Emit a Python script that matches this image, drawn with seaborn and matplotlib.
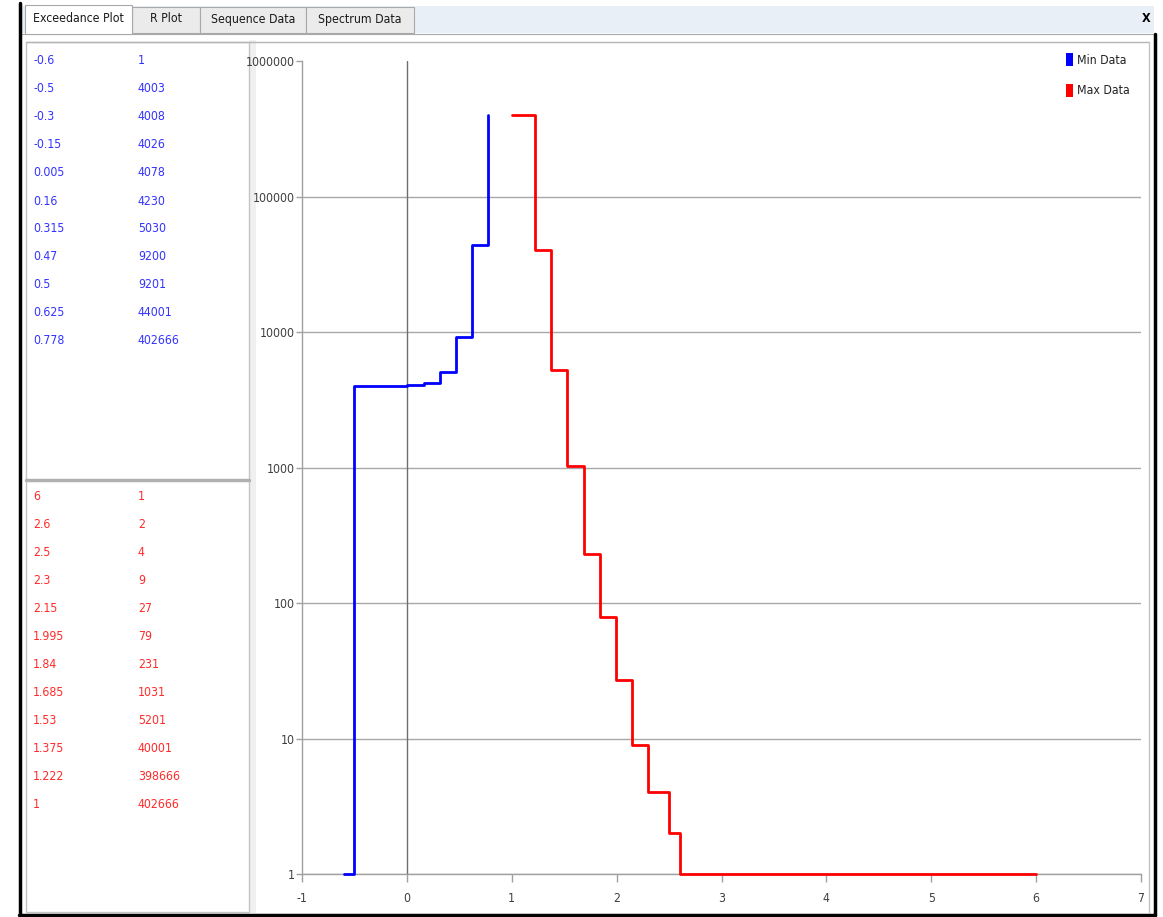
import matplotlib
matplotlib.use("Agg")
import matplotlib.pyplot as plt
from matplotlib.patches import Rectangle
from matplotlib.lines import Line2D
import seaborn as sns
import pandas as pd

# ---------------- data ----------------
min_x = [-0.6, -0.5, -0.3, -0.15, 0.005, 0.16, 0.315, 0.47, 0.5, 0.625, 0.778]
min_n = [1, 4003, 4008, 4026, 4078, 4230, 5030, 9200, 9201, 44001, 402666]
max_x = [6, 2.6, 2.5, 2.3, 2.15, 1.995, 1.84, 1.685, 1.53, 1.375, 1.222, 1]
max_n = [1, 2, 4, 9, 27, 79, 231, 1031, 5201, 40001, 398666, 402666]
tab_labels = ["Exceedance Plot", "R Plot", "Sequence Data", "Spectrum Data"]
series_names = ["Min Data", "Max Data"]
x_ticks = [-1, 0, 1, 2, 3, 4, 5, 6, 7]
y_ticks = [1, 10, 100, 1000, 10000, 100000, 1000000]

sns.set_style("white")
FONT = ["DejaVu Sans"]
plt.rcParams["font.family"] = FONT
plt.rcParams["font.stretch"] = "condensed"
FS = 8.8

W, H = 1163, 917
fig = plt.figure(figsize=(W / 100, H / 100), dpi=100)


def fx(px):
    return px / W


def fy(py):
    return 1 - py / H


def rect(x0, y0, x1, y1, fc, ec="none", lw=1.0, z=0):
    fig.patches.append(Rectangle((fx(x0), fy(y1)), fx(x1) - fx(x0), fy(y0) - fy(y1),
                                 transform=fig.transFigure, facecolor=fc, edgecolor=ec,
                                 linewidth=lw, zorder=z))


def hline(x0, x1, y, c, lw=1.0, z=1):
    fig.lines.append(Line2D([fx(x0), fx(x1)], [fy(y), fy(y)], transform=fig.transFigure,
                            color=c, linewidth=lw, zorder=z))


def vline(x, y0, y1, c, lw=1.0, z=1):
    fig.lines.append(Line2D([fx(x), fx(x)], [fy(y0), fy(y1)], transform=fig.transFigure,
                            color=c, linewidth=lw, zorder=z))


# ---------------- window chrome ----------------
rect(20, 6, 1154, 33, "#e9eff7", z=0)
tab_edges = [25, 132, 200, 306, 414]
for i, lab in enumerate(tab_labels):
    x0, x1 = tab_edges[i], tab_edges[i + 1]
    if i == 0:
        rect(x0, 5, x1, 34, "white", ec="#a8a8a8", lw=0.8, z=2)
    else:
        rect(x0, 7, x1, 33, "#ebebeb", ec="#a8a8a8", lw=0.8, z=1)
    fig.text(fx((x0 + x1) / 2), fy(19), lab, ha="center", va="center",
             fontsize=FS, color="#1a1a1a", zorder=3)
fig.text(fx(1146), fy(18), "X", ha="center", va="center", fontsize=9,
         color="#000000", fontweight="bold", zorder=3)
hline(20, 1154, 33.5, "#a8a8a8", lw=0.8)

rect(21, 34, 1153, 913, "white", z=0)
rect(249, 40, 256, 913, "#f0f0f0", z=0)
rect(26, 42, 249, 912, "white", ec="#c4c4c4", lw=1.0, z=0.5)
hline(26, 1149, 41.5, "#b4b4b4", lw=1.0)
hline(26, 249, 479.5, "#b0b0b0", lw=2.5, z=2)
vline(1148.5, 42, 912, "#c4c4c4", lw=1.0)

vline(19.5, 3, 915, "black", lw=2.5, z=5)
hline(19, 1155, 914.5, "black", lw=2.5, z=5)
vline(1154.5, 34, 915, "black", lw=2.5, z=5)

# ---------------- tables ----------------
blue_txt = "#3333ff"
red_txt = "#ff2a2a"
for i, (xv, nv) in enumerate(zip(min_x, min_n)):
    yy = 61 + 28 * i
    fig.text(fx(33), fy(yy), f"{xv:g}", ha="left", va="center", fontsize=FS, color=blue_txt)
    fig.text(fx(138), fy(yy), f"{nv}", ha="left", va="center", fontsize=FS, color=blue_txt)
for i, (xv, nv) in enumerate(zip(max_x, max_n)):
    yy = 497 + 28 * i
    fig.text(fx(33), fy(yy), f"{xv:g}", ha="left", va="center", fontsize=FS, color=red_txt)
    fig.text(fx(138), fy(yy), f"{nv}", ha="left", va="center", fontsize=FS, color=red_txt)

# ---------------- plot ----------------
ax = fig.add_axes([fx(302), fy(874), fx(1141) - fx(302), fy(61) - fy(874)])
ax.set_zorder(10)
ax.set_facecolor("none")

df_min = pd.DataFrame({"x": min_x, "n": min_n, "series": series_names[0]})
df_max = pd.DataFrame({"x": max_x, "n": max_n, "series": series_names[1]}).sort_values("x")

sns.lineplot(data=df_min, x="x", y="n", ax=ax, color="#0000ff", linewidth=2.0,
             drawstyle="steps-post", estimator=None, sort=False, clip_on=False, zorder=4)
sns.lineplot(data=df_max, x="x", y="n", ax=ax, color="#ff0000", linewidth=2.0,
             drawstyle="steps-pre", estimator=None, sort=False, clip_on=False, zorder=4)

ax.set_yscale("log")
ax.set_xlim(-1, 7)
ax.set_ylim(1, 1000000)
ax.set_xticks(x_ticks)
ax.set_xticklabels([str(t) for t in x_ticks])
ax.set_yticks(y_ticks)
ax.set_yticklabels([str(t) for t in y_ticks])
ax.yaxis.set_minor_locator(matplotlib.ticker.NullLocator())
ax.axvline(0, color="#6e6e6e", linewidth=1.0, zorder=3)
ax.grid(axis="y", color="#a8a8a8", linewidth=1.0)
ax.grid(axis="x", visible=False)
for t in ax.yaxis.get_major_ticks():
    if t.get_loc() >= 1000000:
        t.gridline.set_visible(False)
for s in ["top", "right"]:
    ax.spines[s].set_visible(False)
for s in ["left", "bottom"]:
    ax.spines[s].set_color("#a0a0a0")
    ax.spines[s].set_linewidth(1.0)
ax.tick_params(axis="x", direction="out", length=6, width=1, color="#a0a0a0",
               labelsize=FS, labelcolor="#404040", pad=7, bottom=True)
ax.tick_params(axis="y", direction="out", length=4, width=1, color="#a0a0a0",
               labelsize=FS, labelcolor="#404040", pad=1, left=True)
ax.set_xlabel("")
ax.set_ylabel("")
if ax.get_legend() is not None:
    ax.get_legend().remove()

rect(1066, 53, 1073, 66, "#0000ff", z=6)
rect(1066, 84, 1073, 97, "#ff0000", z=6)
fig.text(fx(1077), fy(60), series_names[0], ha="left", va="center", fontsize=FS, color="#222222")
fig.text(fx(1077), fy(91), series_names[1], ha="left", va="center", fontsize=FS, color="#222222")

fig.savefig("out.png", dpi=100)
